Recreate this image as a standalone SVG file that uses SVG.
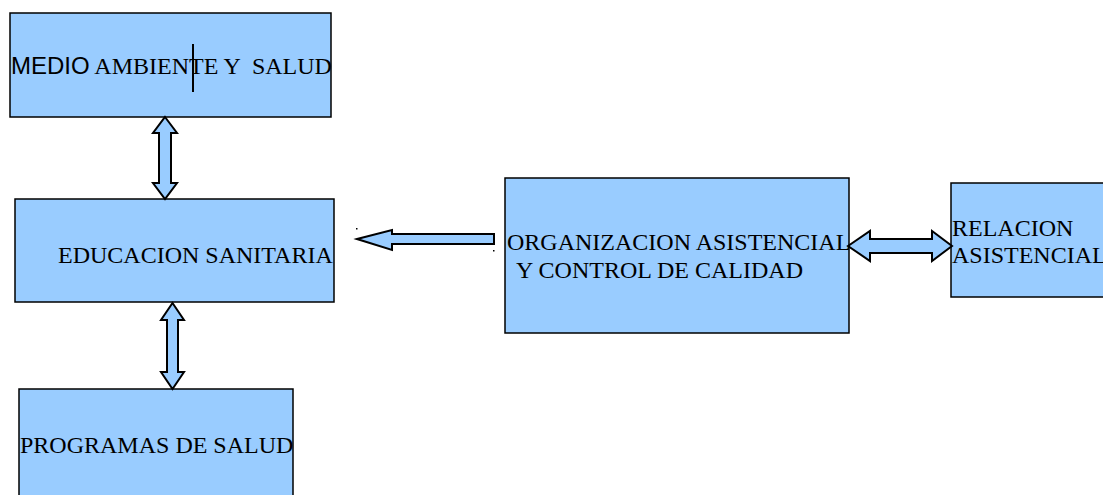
<svg xmlns="http://www.w3.org/2000/svg" width="1103" height="495" viewBox="0 0 1103 495">
<style>
.box{fill:#99ccff;stroke:#000;stroke-width:1.5}
.arr{fill:#99ccff;stroke:#000;stroke-width:2;stroke-linejoin:miter}
.t{font-family:"Liberation Serif","Times New Roman",serif;font-size:24px;fill:#000;white-space:pre}
.s{font-family:"Liberation Sans",Arial,sans-serif}
.dot{fill:#000}
</style>
<rect width="1103" height="495" fill="#fff"/>
<g id="medio">
<rect class="box" x="10" y="13" width="321" height="104"/>
<text class="t" x="11" y="74" xml:space="preserve"><tspan class="s">MEDIO</tspan> AMBIENTE Y  SALUD</text>
<line x1="193" y1="44" x2="193" y2="92" stroke="#000" stroke-width="2"/>
</g>
<g id="educacion">
<rect class="box" x="15" y="199" width="319" height="103"/>
<text class="t" x="58" y="263">EDUCACION SANITARIA</text>
</g>
<g id="programas">
<rect class="box" x="19" y="389" width="274" height="112"/>
<text class="t" x="20" y="453">PROGRAMAS DE SALUD</text>
</g>
<g id="organizacion">
<rect class="box" x="505" y="178" width="344" height="155"/>
<text class="t" x="507" y="250">ORGANIZACION ASISTENCIAL</text>
<text class="t" x="511" y="278" xml:space="preserve"> Y CONTROL DE CALIDAD</text>
</g>
<g id="relacion">
<rect class="box" x="951" y="183" width="160" height="114"/>
<text class="t" x="952" y="236">RELACION</text>
<text class="t" x="952" y="263">ASISTENCIAL</text>
</g>
<g id="connectors">
<path class="arr" d="M165,117 L177,133 L171,133 L171,183 L177,183 L165,199 L153,183 L159,183 L159,133 L153,133 Z"/>
<path class="arr" d="M172.5,303 L184,320 L178,320 L178,372 L184,372 L172.5,389 L161,372 L167,372 L167,320 L161,320 Z"/>
<path class="arr" d="M357,239 L392,230 L392,234 L494,234 L494,244 L392,244 L392,250 Z"/>
<path class="arr" d="M848,246 L870,231 L870,239 L932,239 L932,231 L952,246 L932,261 L932,253 L870,253 L870,261 Z"/>
<rect class="dot" x="356" y="228" width="1.5" height="1.5"/>
<rect class="dot" x="493" y="250" width="1.5" height="1.5"/>
</g>
</svg>
